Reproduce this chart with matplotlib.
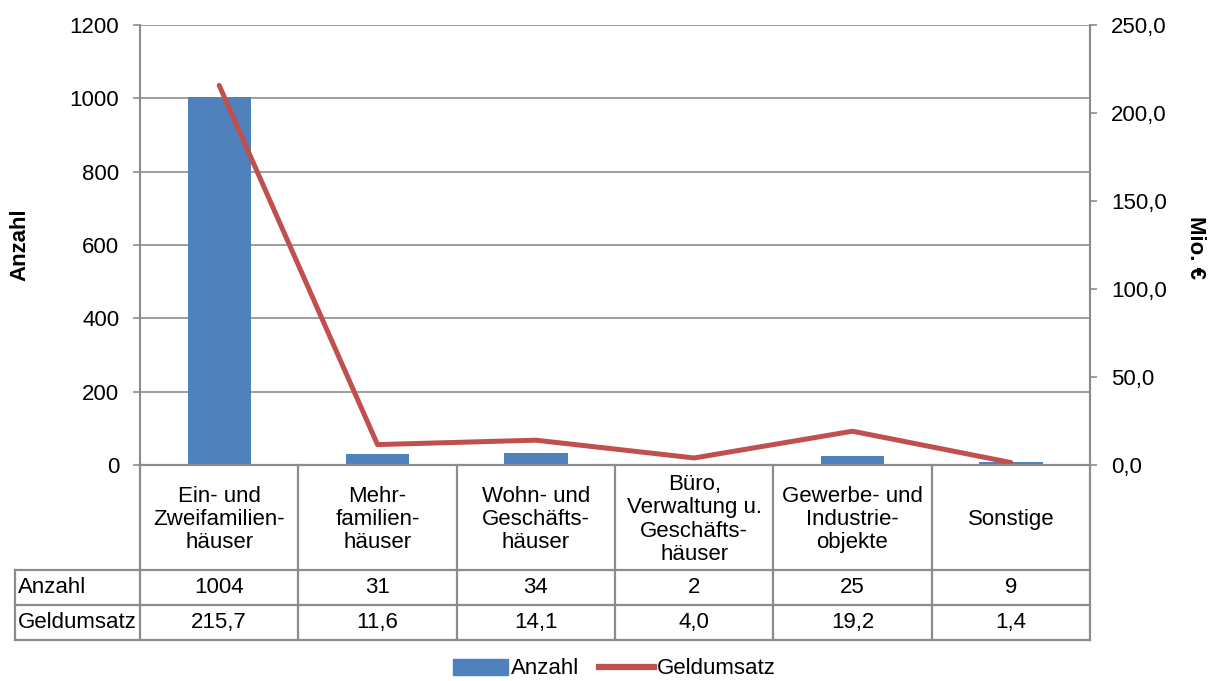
import numpy as np
import matplotlib.pyplot as plt
from matplotlib.lines import Line2D
from matplotlib.patches import Patch
from matplotlib.ticker import FuncFormatter

plt.rcParams['font.family'] = ['Liberation Sans', 'DejaVu Sans']

# Kaufverträge nach Objektart
kategorien = ["Ein- und\nZweifamilien-\nhäuser", "Mehr-\nfamilien-\nhäuser",
              "Wohn- und\nGeschäfts-\nhäuser", "Büro,\nVerwaltung u.\nGeschäfts-\nhäuser",
              "Gewerbe- und\nIndustrie-\nobjekte", "Sonstige"]
anzahl = [1004, 31, 34, 2, 25, 9]
geldumsatz = [215.7, 11.6, 14.1, 4.0, 19.2, 1.4]

blau = "#4F81BD"
rot = "#C0504D"
grau = "#8C8C8C"
fs = 16

W, H = 1221, 681
fig = plt.figure(figsize=(W / 100, H / 100), dpi=100)

# Diagrammfläche in Pixelkoordinaten
x0, x1, y_top, y_bot = 140, 1090, 25, 465
ax = fig.add_axes([x0 / W, 1 - y_bot / H, (x1 - x0) / W, (y_bot - y_top) / H])
x = np.arange(len(kategorien))

ax.bar(x, anzahl, width=0.4, color=blau, zorder=2)
ax.set_xlim(-0.5, len(kategorien) - 0.5)
ax.set_ylim(0, 1200)
ax.set_yticks(np.arange(0, 1201, 200))
ax.yaxis.grid(True, color=grau, lw=1.2, zorder=0)
ax.set_xticks([])
for s in ["top", "bottom"]:
    ax.spines[s].set_visible(False)
for s in ["left", "right"]:
    ax.spines[s].set_color(grau)
    ax.spines[s].set_linewidth(1.5)
ax.tick_params(axis="y", labelsize=fs, color=grau, length=5, width=1.2, pad=10)

ax2 = ax.twinx()
ax2.plot(x, geldumsatz, color=rot, lw=3.6, solid_capstyle="round", zorder=3)
ax2.set_ylim(0, 250)
ax2.set_yticks(np.arange(0, 251, 50))
ax2.yaxis.set_major_formatter(FuncFormatter(lambda v, p: f"{v:.1f}".replace(".", ",")))
ax2.tick_params(axis="y", labelsize=fs, color=grau, length=5, width=1.2, pad=10)
for s in ["top", "bottom", "left"]:
    ax2.spines[s].set_visible(False)
ax2.spines["right"].set_color(grau)
ax2.spines["right"].set_linewidth(1.5)

# Achsentitel
fig.text(20 / W, 1 - 245 / H, "Anzahl", rotation=90, ha="center", va="center",
         fontsize=fs, fontweight="bold")
fig.text(1195 / W, 1 - 248 / H, "Mio. €", rotation=-90, ha="center", va="center",
         fontsize=fs, fontweight="bold")

# Datentabelle unter dem Diagramm
r0, r1, r2, r3 = 465, 570, 605, 640
tab = fig.add_axes([x0 / W, 1 - r3 / H, (x1 - x0) / W, (r3 - r0) / H])
tab.set_xlim(ax.get_xlim())
tab.set_ylim(r3, r0)
tab.axis("off")
px = (x1 - x0) / len(kategorien)
links = -0.5 - (x0 - 15) / px
kw = dict(color=grau, lw=1.6, clip_on=False)

for gx in np.arange(-0.5, len(kategorien), 1.0):
    tab.plot([gx, gx], [r0, r3], **kw)
tab.plot([links, links], [r1, r3], **kw)
for gy in (r1, r2, r3):
    tab.plot([links, x[-1] + 0.5], [gy, gy], **kw)
tab.plot([-0.5, x[-1] + 0.5], [r0, r0], **kw)

for i, k in enumerate(kategorien):
    tab.text(i, (r0 + r1) / 2 + 2, k, ha="center", va="center", fontsize=fs,
             linespacing=1.15)
    tab.text(i, (r1 + r2) / 2, f"{anzahl[i]}", ha="center", va="center", fontsize=fs)
    tab.text(i, (r2 + r3) / 2, f"{geldumsatz[i]:.1f}".replace(".", ","),
             ha="center", va="center", fontsize=fs)
tab.text(links + 0.02, (r1 + r2) / 2, "Anzahl", ha="left", va="center", fontsize=fs)
tab.text(links + 0.02, (r2 + r3) / 2, "Geldumsatz", ha="left", va="center", fontsize=fs)

handles = [Patch(color=blau), Line2D([0], [0], color=rot, lw=4.5)]
fig.legend(handles, ["Anzahl", "Geldumsatz"], loc="center", bbox_to_anchor=(0.503, 1 - 669 / H),
           ncol=2, frameon=False, fontsize=fs, handlelength=2.5, handleheight=0.7,
           handletextpad=0.1, columnspacing=0.9)

fig.savefig("out.png", dpi=100)
